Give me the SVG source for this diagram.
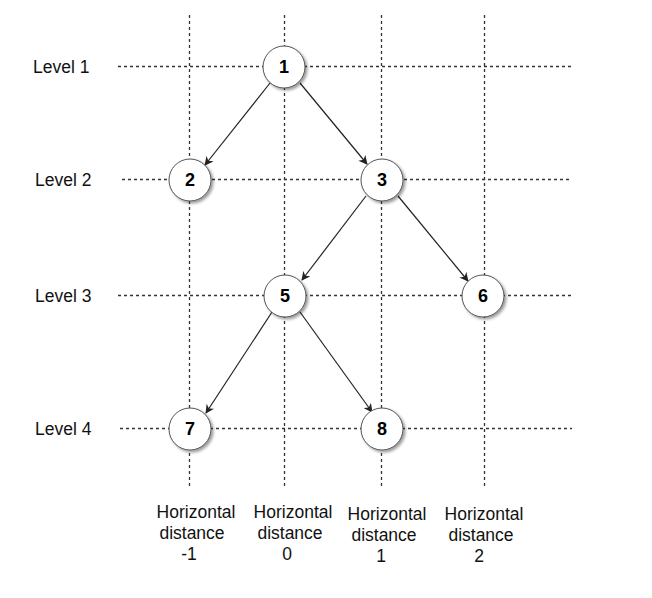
<svg xmlns="http://www.w3.org/2000/svg" width="652" height="598" viewBox="0 0 652 598">
<style>
.grid{stroke:#333;stroke-width:1.3;stroke-dasharray:3,3;fill:none}
.lbl{font-family:"Liberation Sans",Arial,sans-serif;font-size:17.5px;fill:#111}
.node circle{fill:#fff;stroke:#555;stroke-width:1}
.node text{font-family:"Liberation Sans",Arial,sans-serif;font-size:18px;font-weight:bold;fill:#000;text-anchor:middle;dominant-baseline:central}
.edge{stroke:#222;stroke-width:1.2;fill:none;marker-end:url(#ah)}
</style>
<defs>
<marker id="ah" viewBox="0 0 10 10" refX="9" refY="5" markerWidth="9" markerHeight="9" markerUnits="userSpaceOnUse" orient="auto">
<path d="M0,0 L10,5 L0,10 L3,5 Z" fill="#222"/>
</marker>
<filter id="sh" x="-30%" y="-30%" width="170%" height="170%">
<feGaussianBlur in="SourceAlpha" stdDeviation="1.5"/>
<feOffset dx="2" dy="2" result="b"/>
<feComponentTransfer><feFuncA type="linear" slope="0.4"/></feComponentTransfer>
<feMerge><feMergeNode/><feMergeNode in="SourceGraphic"/></feMerge>
</filter>
</defs>
<rect width="652" height="598" fill="#fff"/>
<g id="grid">
<line class="grid" x1="189.5" y1="15" x2="189.5" y2="486"/>
<line class="grid" x1="284.5" y1="15" x2="284.5" y2="486"/>
<line class="grid" x1="381.5" y1="15" x2="381.5" y2="486"/>
<line class="grid" x1="484.5" y1="15" x2="484.5" y2="486"/>
<line class="grid" x1="118" y1="66.5" x2="572" y2="66.5"/>
<line class="grid" x1="122" y1="179.5" x2="572" y2="179.5"/>
<line class="grid" x1="118" y1="295.5" x2="572" y2="295.5"/>
<line class="grid" x1="120" y1="428.5" x2="572" y2="428.5"/>
</g>
<g id="labels">
<text class="lbl" x="33" y="73">Level 1</text>
<text class="lbl" x="35" y="186">Level 2</text>
<text class="lbl" x="35" y="302">Level 3</text>
<text class="lbl" x="35" y="435">Level 4</text>
<g text-anchor="middle">
<text class="lbl" x="196" y="518">Horizontal</text>
<text class="lbl" x="192" y="539">distance</text>
<text class="lbl" x="189" y="560">-1</text>
<text class="lbl" x="293" y="518">Horizontal</text>
<text class="lbl" x="290" y="539">distance</text>
<text class="lbl" x="287" y="560">0</text>
<text class="lbl" x="387" y="520">Horizontal</text>
<text class="lbl" x="384" y="541">distance</text>
<text class="lbl" x="381" y="562">1</text>
<text class="lbl" x="484" y="520">Horizontal</text>
<text class="lbl" x="481" y="541">distance</text>
<text class="lbl" x="479" y="562">2</text>
</g>
</g>
<g id="connectors">
<line class="edge" x1="270" y1="83" x2="205" y2="165"/>
<line class="edge" x1="300" y1="83" x2="367" y2="164"/>
<line class="edge" x1="366" y1="196" x2="302" y2="280"/>
<line class="edge" x1="398" y1="196" x2="468" y2="281"/>
<line class="edge" x1="272" y1="312" x2="206" y2="413"/>
<line class="edge" x1="300" y1="312" x2="372" y2="412"/>
</g>
<g id="node1" class="node"><circle cx="284" cy="67" r="21" filter="url(#sh)"/><text x="284" y="67">1</text></g>
<g id="node2" class="node"><circle cx="190" cy="180" r="21" filter="url(#sh)"/><text x="190" y="180">2</text></g>
<g id="node3" class="node"><circle cx="382" cy="180" r="21" filter="url(#sh)"/><text x="382" y="180">3</text></g>
<g id="node5" class="node"><circle cx="285" cy="296" r="21" filter="url(#sh)"/><text x="285" y="296">5</text></g>
<g id="node6" class="node"><circle cx="483" cy="296" r="21" filter="url(#sh)"/><text x="483" y="296">6</text></g>
<g id="node7" class="node"><circle cx="190" cy="429" r="21" filter="url(#sh)"/><text x="190" y="429">7</text></g>
<g id="node8" class="node"><circle cx="382" cy="429" r="21" filter="url(#sh)"/><text x="382" y="429">8</text></g>
</svg>
